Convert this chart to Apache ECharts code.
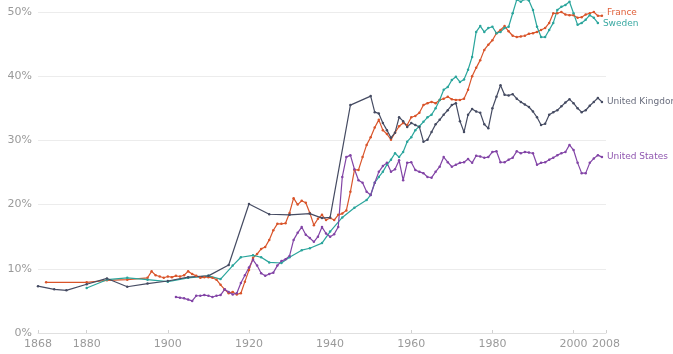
<!DOCTYPE html>
<html>
<head>
<meta charset="utf-8">
<script src="https://cdn.jsdelivr.net/npm/echarts@6/dist/echarts.min.js"></script>
<style>html,body{margin:0;padding:0;background:#fff}#c{width:673px;height:354px}</style>
</head>
<body>
<div id="c"></div>
<script>
const xTickLabels = [1868, 1880, 1900, 1920, 1940, 1960, 1980, 2000, 2008];
const yTickLabels = [0, 10, 20, 30, 40, 50];

const ukYears = [1868,1872,1875,1880,1885,1890,1895,1900,1905,1910,1915,1920,1925,1930,1935,1938,1940,1945,1950,1951,1952,1953,1954,1955,1956,1957,1958,1959,1960,1961,1962,1963,1964,1965,1966,1967,1968,1969,1970,1971,1972,1973,1974,1975,1976,1977,1978,1979,1980,1981,1982,1983,1984,1985,1986,1987,1988,1989,1990,1991,1992,1993,1994,1995,1996,1997,1998,1999,2000,2001,2002,2003,2004,2005,2006,2007];
const ukValues = [7.3,6.8,6.65,7.6,8.5,7.2,7.7,8.1,8.7,8.9,10.6,20.1,18.5,18.4,18.6,17.9,18.0,35.5,36.9,34.4,34.2,32.7,31.6,30.4,31.2,33.6,33.0,32.1,32.7,32.4,32.1,29.8,30.1,31.3,32.5,33.2,34.0,34.7,35.5,35.8,33.0,31.3,34.0,34.9,34.5,34.3,32.5,31.9,35.0,36.8,38.6,37.1,37.0,37.2,36.5,36.0,35.6,35.2,34.5,33.6,32.4,32.6,34.0,34.4,34.7,35.3,35.9,36.4,35.8,35.0,34.4,34.7,35.4,36.0,36.6,36.0];

const franceYears = [1870,1880,1885,1890,1895,1896,1897,1898,1899,1900,1901,1902,1903,1904,1905,1906,1907,1908,1909,1910,1911,1912,1913,1914,1915,1916,1917,1918,1919,1920,1921,1922,1923,1924,1925,1926,1927,1928,1929,1930,1931,1932,1933,1934,1935,1936,1937,1938,1939,1940,1941,1942,1943,1944,1945,1946,1947,1948,1949,1950,1951,1952,1953,1954,1955,1956,1957,1958,1959,1960,1961,1962,1963,1964,1965,1966,1967,1968,1969,1970,1971,1972,1973,1974,1975,1976,1977,1978,1979,1980,1981,1982,1983,1984,1985,1986,1987,1988,1989,1990,1991,1992,1993,1994,1995,1996,1997,1998,1999,2000,2001,2002,2003,2004,2005,2006,2007];
const franceValues = [7.9,7.9,8.2,8.3,8.6,9.6,9.0,8.8,8.6,8.8,8.7,8.9,8.8,9.0,9.6,9.2,8.9,8.6,8.7,8.7,8.6,8.3,7.5,6.8,6.2,6.4,6.0,6.2,8.0,9.8,11.7,12.3,13.1,13.4,14.5,16.0,17.0,17.0,17.1,18.7,21.0,20.0,20.6,20.3,18.7,16.8,17.8,18.4,17.6,17.9,17.6,18.4,18.6,19.1,22.0,25.4,25.4,27.4,29.3,30.5,32.0,33.2,31.6,31.0,30.1,31.2,32.2,32.7,32.4,33.6,33.8,34.3,35.5,35.8,36.0,35.8,36.3,36.5,36.8,36.4,36.3,36.3,36.5,37.9,40.0,41.3,42.5,44.1,44.9,45.6,46.7,47.2,47.8,47.0,46.3,46.1,46.2,46.3,46.6,46.7,46.9,47.2,47.5,48.3,49.8,49.8,50.0,49.6,49.5,49.5,49.1,49.2,49.6,49.8,50.0,49.4,49.4];

const swedenYears = [1880,1885,1890,1895,1900,1905,1910,1913,1916,1918,1921,1923,1925,1928,1930,1933,1935,1938,1940,1943,1946,1949,1950,1951,1952,1953,1954,1955,1956,1957,1958,1959,1960,1961,1962,1963,1964,1965,1966,1967,1968,1969,1970,1971,1972,1973,1974,1975,1976,1977,1978,1979,1980,1981,1982,1983,1984,1985,1986,1987,1988,1989,1990,1991,1992,1993,1994,1995,1996,1997,1998,1999,2000,2001,2002,2003,2004,2005,2006];
const swedenValues = [7.0,8.3,8.6,8.3,8.0,8.6,8.9,8.4,10.5,11.8,12.1,11.8,11.0,10.9,11.8,12.9,13.2,14.0,15.8,18.0,19.5,20.7,21.5,23.4,24.3,25.1,26.2,27.0,28.0,27.4,28.2,29.8,30.5,31.6,32.2,32.9,33.6,34.0,35.0,36.3,37.9,38.3,39.4,39.9,39.1,39.5,41.0,43.0,46.9,47.8,46.9,47.5,47.7,46.7,46.9,47.5,47.7,49.8,51.9,51.6,52.0,51.8,50.3,47.7,46.1,46.1,47.2,48.3,50.3,50.8,51.1,51.6,49.8,48.0,48.3,48.8,49.5,49.1,48.3];

const usYears = [1902,1903,1904,1905,1906,1907,1908,1909,1910,1911,1912,1913,1914,1915,1916,1917,1918,1919,1920,1921,1922,1923,1924,1925,1926,1927,1928,1929,1930,1931,1932,1933,1934,1935,1936,1937,1938,1939,1940,1941,1942,1943,1944,1945,1946,1947,1948,1949,1950,1951,1952,1953,1954,1955,1956,1957,1958,1959,1960,1961,1962,1963,1964,1965,1966,1967,1968,1969,1970,1971,1972,1973,1974,1975,1976,1977,1978,1979,1980,1981,1982,1983,1984,1985,1986,1987,1988,1989,1990,1991,1992,1993,1994,1995,1996,1997,1998,1999,2000,2001,2002,2003,2004,2005,2006,2007];
const usValues = [5.6,5.5,5.4,5.2,5.0,5.8,5.8,5.9,5.8,5.6,5.8,5.9,6.8,6.4,6.0,6.2,7.8,9.0,10.2,11.4,10.5,9.3,8.9,9.2,9.4,10.5,11.2,11.5,12.0,14.5,15.6,16.5,15.3,14.8,14.2,15.0,16.5,15.5,15.0,15.4,16.5,24.3,27.4,27.7,25.5,23.8,23.4,22.0,21.5,23.4,25.1,26.0,26.5,25.1,25.5,26.9,23.8,26.5,26.6,25.4,25.1,24.9,24.3,24.2,25.1,25.9,27.4,26.6,25.9,26.2,26.5,26.6,27.1,26.5,27.6,27.5,27.3,27.4,28.2,28.3,26.6,26.6,27.0,27.3,28.3,28.0,28.2,28.1,28.0,26.2,26.5,26.6,27.0,27.3,27.7,28.0,28.2,29.3,28.5,26.5,24.9,24.9,26.5,27.2,27.7,27.4];

const seriesNames = ['France', 'Sweden', 'United Kingdom', 'United States'];
const seriesColors = ['#d9542a', '#2aa59c', '#454b62', '#8244a6'];
const labelColors = ['#e0603a', '#3aa9a2', '#6a6e7e', '#9057b0'];

function pairs(xs, ys) { return xs.map((x, i) => [x, ys[i]]); }
const allData = [pairs(franceYears, franceValues), pairs(swedenYears, swedenValues), pairs(ukYears, ukValues), pairs(usYears, usValues)];

const chart = echarts.init(document.getElementById('c'), null, { renderer: 'canvas' });
const font = 'DejaVu Sans, Verdana, sans-serif';
chart.setOption({
  animation: false,
  backgroundColor: '#fff',
  textStyle: { fontFamily: font },
  grid: { left: 38, right: 67, top: 12, bottom: 21, containLabel: false },
  xAxis: {
    type: 'value', min: 1868, max: 2008,
    axisLine: { show: true, lineStyle: { color: '#e0e0e0', width: 1 } },
    axisTick: { show: true, inside: true, customValues: xTickLabels, length: 3, lineStyle: { color: '#d0d0d0' } },
    axisLabel: { customValues: xTickLabels, formatter: v => String(v), color: '#9a9a9a', fontSize: 11, margin: 6, fontFamily: font },
    splitLine: { show: false }
  },
  yAxis: {
    type: 'value', min: 0, max: 50, interval: 10,
    axisLine: { show: false }, axisTick: { show: false },
    axisLabel: { formatter: '{value}%', color: '#9a9a9a', fontSize: 11, margin: 6, fontFamily: font },
    splitLine: { lineStyle: { color: '#ececec', width: 1 } }
  },
  series: seriesNames.map((name, i) => ({
    name, type: 'line', data: allData[i], clip: false,
    symbol: 'circle', symbolSize: 2.5, showSymbol: true,
    lineStyle: { color: seriesColors[i], width: 1.2 },
    itemStyle: { color: seriesColors[i] },
    endLabel: { show: true, formatter: name, color: labelColors[i], fontSize: 9, distance: 5, fontFamily: font,
      offset: i === 0 ? [0, -3] : (i === 1 ? [0, 1] : [0, 0]) },
    emphasis: { disabled: true }
  }))
});
</script>
</body>
</html>
